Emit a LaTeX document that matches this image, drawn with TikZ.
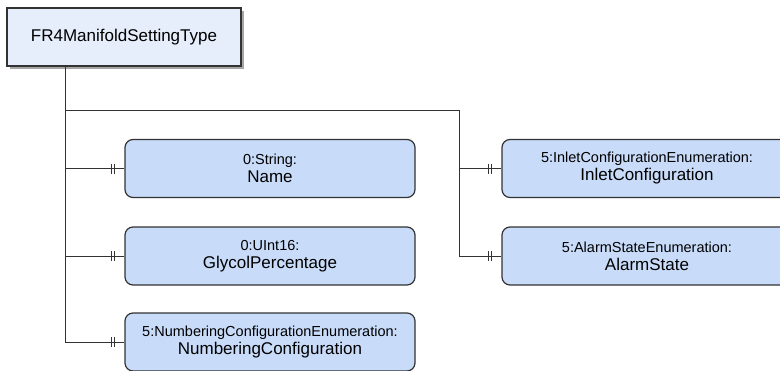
\documentclass[tikz,border=0pt]{standalone}
\usepackage{fontspec}
\setmainfont{Liberation Sans}
\usetikzlibrary{shadows}
\definecolor{linegray}{HTML}{333333}
\definecolor{typefill}{HTML}{E6EEFC}
\definecolor{itemfill}{HTML}{C8DCFA}
\tikzset{
  typebox/.style={draw=linegray, line width=1.3pt, fill=typefill,
    minimum width=234pt, minimum height=58pt, inner sep=0pt,
    font=\fontsize{17}{20}\selectfont,
    drop shadow={shadow xshift=3pt, shadow yshift=-3pt, fill=black, opacity=0.35}},
  itembox/.style={draw=linegray, line width=1.2pt, fill=itemfill,
    rounded corners=8pt, minimum width=290pt, minimum height=58pt,
    inner sep=0pt, align=center, font=\fontsize{17}{18}\selectfont},
  link/.style={draw=linegray, line width=1pt},
}
\newcommand{\itemtext}[2]{{\fontsize{14.5}{18}\selectfont #1}\\#2}
\newcommand{\oneone}[1]{%
  \draw[link] ([xshift=-12.5pt]#1.west) ++(0,-5) -- ++(0,10);
  \draw[link] ([xshift=-9.5pt]#1.west) ++(0,-5) -- ++(0,10);}
\begin{document}
\begin{tikzpicture}[x=1pt, y=-1pt]
  \clip (0,0) rectangle (780,370);
  \fill[white] (0,0) rectangle (780,370);

  % parent type
  \node[typebox] (top) at (124,37) {FR4ManifoldSettingType};

  % children
  \node[itembox] (name)  at (270,168.5) {\itemtext{0:String:}{Name}};
  \node[itembox] (glyc)  at (270,256)   {\itemtext{0:UInt16:}{GlycolPercentage}};
  \node[itembox] (numb)  at (270,342)   {\itemtext{5:NumberingConfigurationEnumeration:}{NumberingConfiguration}};
  \node[itembox] (inlet) at (647,168.5) {\itemtext{5:InletConfigurationEnumeration:}{InletConfiguration}};
  \node[itembox] (alarm) at (647,256)   {\itemtext{5:AlarmStateEnumeration:}{AlarmState}};

  % trunk and branch
  \coordinate (trunk) at ([xshift=59pt]top.south west);
  \coordinate (fork) at (66,110);
  \coordinate (br) at (459,110);
  \draw[link] (trunk) |- (numb.west);
  \draw[link] (trunk |- name.west) -- (name.west);
  \draw[link] (trunk |- glyc.west) -- (glyc.west);
  \draw[link] (fork) -- (br) |- (alarm.west);
  \draw[link] (br |- inlet.west) -- (inlet.west);

  % one-to-one markers
  \oneone{name}
  \oneone{glyc}
  \oneone{numb}
  \oneone{inlet}
  \oneone{alarm}
\end{tikzpicture}
\end{document}
